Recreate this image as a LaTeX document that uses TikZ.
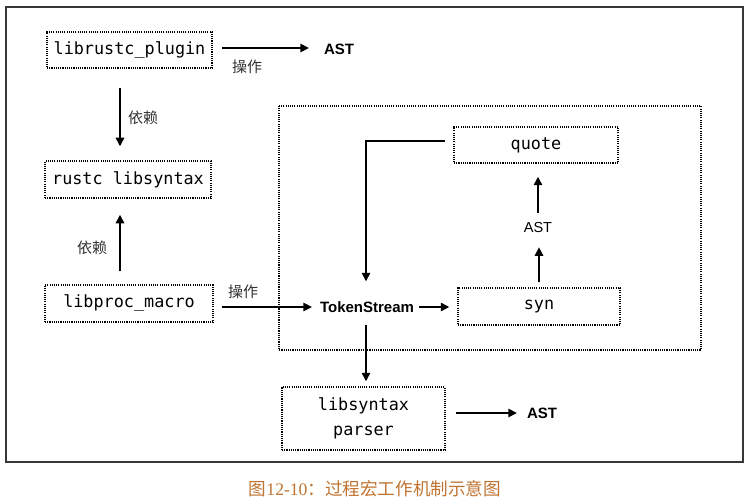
\documentclass[tikz,border=0pt]{standalone}
\usepackage{fontspec}
\setmainfont{Liberation Serif}
\newfontfamily\cjk{Noto Sans CJK SC}
\newfontfamily\monofnt{DejaVu Sans Mono}
\newfontfamily\sansfnt{Liberation Sans}
\usetikzlibrary{arrows.meta}
\definecolor{capcol}{RGB}{192,116,50}
\definecolor{framecol}{RGB}{55,55,55}
\begin{document}
\begin{tikzpicture}[x=1pt,y=-1pt,
  box/.style={draw=black, line width=1.5pt, dash pattern=on 1.1pt off 1.1pt, inner sep=0pt,
    font=\monofnt\fontsize{16.8}{25}\selectfont, align=center},
  lbl/.style={inner sep=0pt, font=\sansfnt\bfseries\fontsize{15}{17}\selectfont},
  lblr/.style={inner sep=0pt, font=\sansfnt\fontsize{14.5}{16}\selectfont},
  cn/.style={inner sep=0pt, text=black!80, font=\cjk\fontsize{15}{17}\selectfont},
  arr/.style={line width=1.5pt, -{Triangle[length=8.5pt,width=8.5pt]}}]
\useasboundingbox (0,0) rectangle (750,500);
\fill[white] (0,0) rectangle (750,500);
\draw[framecol, line width=2pt] (6,7) rectangle (743,462);
\draw[line width=1.5pt, dash pattern=on 1.1pt off 1.1pt] (279,106) rectangle (701,350);

\node[box, minimum width=165pt, minimum height=36pt] (plugin) at (129.5,50) {librustc\_plugin};
\node[box, minimum width=166pt, minimum height=37pt] (rustc) at (128,179.5) {rustc libsyntax};
\node[box, minimum width=168pt, minimum height=37pt] (procm) at (129,303.5) {libproc\_macro};
\node[box, minimum width=164pt, minimum height=36pt] (quote) at (536,145) {quote};
\node[box, minimum width=162pt, minimum height=37pt] (syn) at (539,306.5) {syn};
\node[box, minimum width=163pt, minimum height=63pt] (parser) at (363.5,418.5) {libsyntax\\parser};

\node[lbl] (ast1) at (339,49) {AST};
\node[lbl] (ts) at (367,307) {TokenStream};
\node[lblr] (astm) at (538,228) {AST};
\node[lbl] (ast3) at (542,413) {AST};

\node[cn] (op1) at (247,67) {操作};
\node[cn] (dep1) at (143,118) {依赖};
\node[cn] (dep2) at (92,248) {依赖};
\node[cn] (op2) at (243,292) {操作};

\draw[arr, shorten <=9pt, shorten >=15pt] ([yshift=2pt]plugin.east) -- ([yshift=2pt]plugin.east -| ast1.west);
\draw[arr, shorten <=19pt, shorten >=14pt] ([xshift=-9.5pt]plugin.south) -- ([xshift=-9.5pt]plugin.south |- rustc.north);
\draw[arr, shorten <=13pt, shorten >=16pt] ([xshift=-9pt]procm.north) -- ([xshift=-9pt]procm.north |- rustc.south);
\draw[arr, shorten <=8pt, shorten >=8pt] (procm.east |- ts.west) -- (ts.west);
\draw[arr, shorten <=5pt, shorten >=8pt] (ts.east) -- (ts.east -| syn.west);
\draw[arr, shorten <=5pt, shorten >=14pt] (syn.north) -- (syn.north |- astm.south);
\draw[arr, shorten <=10pt, shorten >=13pt] (astm.north) -- (astm.north |- quote.south);
\draw[arr, shorten <=8pt, shorten >=20pt] ([yshift=4pt]quote.west) -| ([xshift=-1pt]ts.north);
\draw[arr, shorten <=12pt, shorten >=5pt] ([xshift=-1pt]ts.south) -- ([xshift=-1pt]ts.south |- parser.north);
\draw[arr, shorten <=10pt, shorten >=10pt] (parser.east |- ast3.west) -- (ast3.west);

\node[inner sep=0pt, text=capcol, font=\cjk\fontsize{17.6}{20}\selectfont] (cap) at (375,489) {图{\rmfamily 12-10}：过程宏工作机制示意图};
\end{tikzpicture}
\end{document}
